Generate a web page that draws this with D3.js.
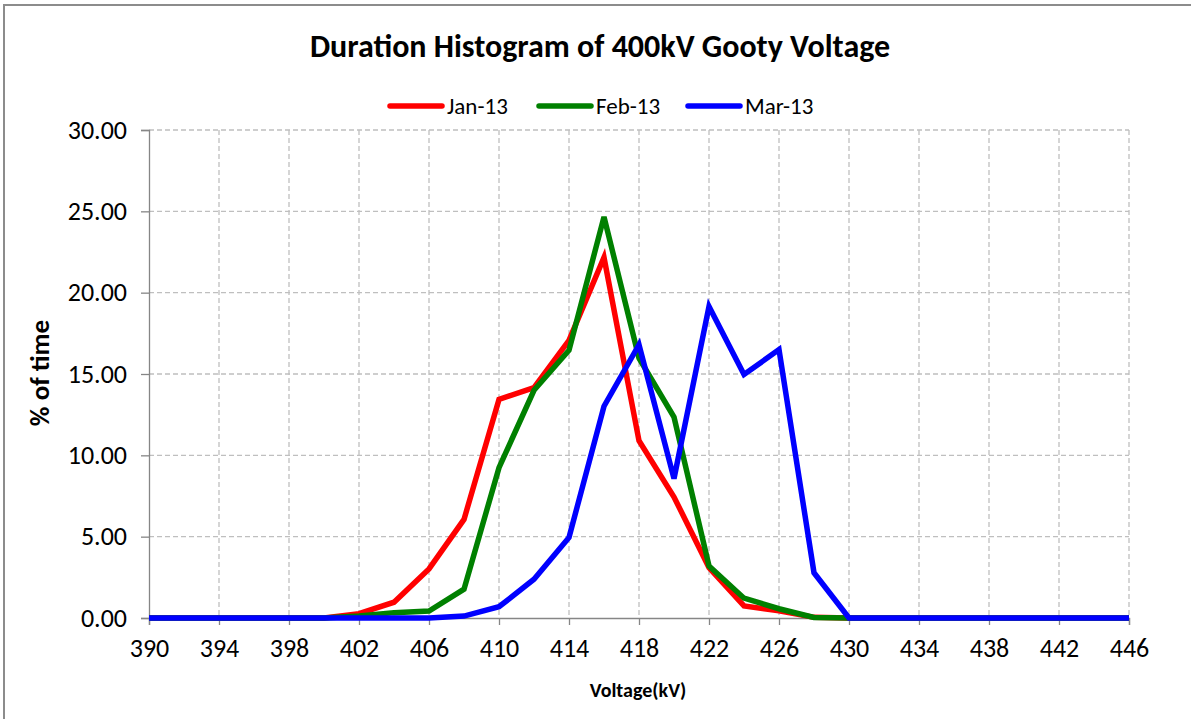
<!DOCTYPE html>
<html>
<head>
<meta charset="utf-8">
<script src="https://cdn.jsdelivr.net/npm/d3@7"></script>
<style>
  html, body { margin: 0; padding: 0; background: #fff; }
  svg { display: block; }
</style>
</head>
<body>
<div id="chart"></div>
<script>
const voltages = d3.range(390, 447, 2);
const jan13 = [0, 0, 0, 0, 0, 0, 0.27, 0.97, 3.02, 6.06, 13.44, 14.16, 17.07, 22.17, 10.9, 7.44, 3.1, 0.74, 0.45, 0.04, 0, 0, 0, 0, 0, 0, 0, 0, 0];
const feb13 = [0, 0, 0, 0, 0, 0, 0.12, 0.33, 0.43, 1.77, 9.24, 14.0, 16.46, 24.66, 15.97, 12.35, 3.2, 1.22, 0.57, 0.03, 0, 0, 0, 0, 0, 0, 0, 0, 0];
const mar13 = [0, 0, 0, 0, 0, 0, 0, 0, 0, 0.12, 0.69, 2.38, 4.95, 13.02, 16.8, 8.57, 19.15, 14.97, 16.5, 2.78, 0, 0, 0, 0, 0, 0, 0, 0, 0];
const xTicks = d3.range(390, 447, 4);
const yTicks = [0, 5, 10, 15, 20, 25, 30];

const series = [
  { name: 'Jan-13', values: jan13, color: '#ff0000' },
  { name: 'Feb-13', values: feb13, color: '#008000' },
  { name: 'Mar-13', values: mar13, color: '#0000ff' }
];

const W = 1191, H = 719;
const font = "Carlito, Calibri, Lato, 'Open Sans', sans-serif";
const margin = { top: 130, right: 62, bottom: 101, left: 149 };
const w = W - margin.left - margin.right;
const h = H - margin.top - margin.bottom;

const svg = d3.select('#chart').append('svg')
  .attr('width', W).attr('height', H);

// outer chart border
svg.append('rect')
  .attr('x', 4).attr('y', 5).attr('width', W + 10).attr('height', H + 10)
  .attr('fill', 'none').attr('stroke', '#8c8c8c').attr('stroke-width', 2);

svg.append('text')
  .attr('x', 600).attr('y', 57)
  .attr('text-anchor', 'middle')
  .attr('font-family', font).attr('font-weight', 'bold').attr('font-size', '32px')
  .attr('fill', '#000')
  .text('Duration Histogram of 400kV Gooty Voltage');

const g = svg.append('g').attr('transform', `translate(${margin.left},${margin.top})`);

const x = d3.scaleLinear().domain([390, 446]).range([0, w]);
const y = d3.scaleLinear().domain([0, 30]).range([h, 0]);

// Grid
g.append('g').selectAll('line')
  .data(yTicks.filter(d => d > 0)).enter().append('line')
  .attr('x1', 0).attr('x2', w)
  .attr('y1', d => y(d)).attr('y2', d => y(d))
  .attr('stroke', '#bfbfbf').attr('stroke-width', 1.3).attr('stroke-dasharray', '5,3');
g.append('g').selectAll('line')
  .data(xTicks.filter(d => d > 390)).enter().append('line')
  .attr('x1', d => x(d)).attr('x2', d => x(d))
  .attr('y1', 0).attr('y2', h)
  .attr('stroke', '#bfbfbf').attr('stroke-width', 1.3).attr('stroke-dasharray', '5,3');

// Axes
const xAxis = g.append('g').attr('transform', `translate(0,${h})`)
  .call(d3.axisBottom(x).tickValues(xTicks).tickSize(7).tickPadding(14).tickFormat(d3.format('d')));
xAxis.selectAll('text').attr('fill', '#000').attr('font-family', font).attr('font-size', '26px');
xAxis.selectAll('line, path').attr('stroke', '#868686').attr('stroke-width', 1.3);

const yAxis = g.append('g')
  .call(d3.axisLeft(y).tickValues(yTicks).tickSize(8).tickPadding(14).tickFormat(d3.format('.2f')));
yAxis.selectAll('text').attr('fill', '#000').attr('font-family', font).attr('font-size', '26px');
yAxis.selectAll('line, path').attr('stroke', '#868686').attr('stroke-width', 1.3);

svg.append('text')
  .attr('transform', 'translate(49,373) rotate(-90)')
  .attr('text-anchor', 'middle')
  .attr('font-family', font).attr('font-weight', 'bold').attr('font-size', '27px')
  .text('% of time');

svg.append('text')
  .attr('x', 638).attr('y', 697)
  .attr('text-anchor', 'middle')
  .attr('font-family', font).attr('font-weight', 'bold').attr('font-size', '20px')
  .text('Voltage(kV)');

// Lines
const line = d3.line().x((d, i) => x(voltages[i])).y(d => y(d));
g.selectAll('.series').data(series).enter().append('path')
  .attr('class', 'series')
  .attr('d', d => line(d.values))
  .attr('fill', 'none')
  .attr('stroke', d => d.color)
  .attr('stroke-width', 5.5)
  .attr('stroke-linejoin', 'miter');

// Legend
const legendX = [390, 539, 688];
const legend = svg.append('g').selectAll('g').data(series).enter().append('g')
  .attr('transform', (d, i) => `translate(${legendX[i]},106)`);
legend.append('line')
  .attr('x1', 0).attr('x2', 52).attr('y1', 0).attr('y2', 0)
  .attr('stroke', d => d.color).attr('stroke-width', 5.5).attr('stroke-linecap', 'round');
legend.append('text')
  .attr('x', 57).attr('y', 8)
  .attr('font-family', font).attr('font-size', '23px').attr('fill', '#000')
  .text(d => d.name);
</script>
</body>
</html>
